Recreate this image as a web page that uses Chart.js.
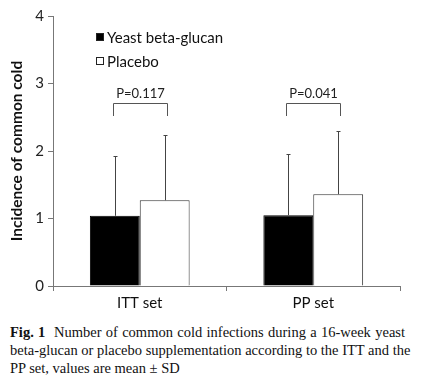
<!DOCTYPE html>
<html>
<head>
<meta charset="utf-8">
<script src="https://cdn.jsdelivr.net/npm/chart.js@4/dist/chart.umd.min.js"></script>
<style>
  html, body { margin: 0; padding: 0; background: #fff; }
  #wrap { position: relative; width: 422px; height: 392px; overflow: hidden; }
  #chart { position: absolute; left: 0; top: 0; }
  .cap { position: absolute; left: 10px; width: 395px; font-family: "Liberation Serif", "DejaVu Serif", serif;
         font-size: 14.5px; color: #111; line-height: 18px; }
  .cap div { text-align: justify; text-align-last: justify; white-space: nowrap; }
  .cap div.last { text-align-last: left; }
</style>
</head>
<body>
<div id="wrap">
  <canvas id="chart" width="422" height="320"></canvas>
  <div class="cap" style="top:323px">
    <div><b>Fig. 1</b>&nbsp; Number of common cold infections during a 16-week yeast</div>
    <div>beta-glucan or placebo supplementation according to the ITT and the</div>
    <div class="last">PP set, values are mean ± SD</div>
  </div>
</div>
<script>
// ── Données ─────────────────────────────────────────────
const categories  = ['ITT set', 'PP set'];
const seriesNames = ['Yeast beta-glucan', 'Placebo'];
const glucanMean  = [1.04, 1.05];
const glucanSD    = [0.89, 0.90];
const placeboMean = [1.27, 1.36];
const placeboSD   = [0.96, 0.94];
const pLabels     = ['P=0.117', 'P=0.041'];
const yTicks      = [0, 1, 2, 3, 4];

const FONT = 'Lato, "Open Sans", sans-serif';

/* ── Barres d'erreur (SD vers le haut) ─────────────────── */
const errorBars = {
    id: 'errorBars',
    afterDatasetsDraw(chart) {
        const ctx = chart.ctx, y = chart.scales.y;
        ctx.save();
        ctx.strokeStyle = '#444';
        ctx.lineWidth = 1;
        chart.data.datasets.forEach((ds, i) => {
            chart.getDatasetMeta(i).data.forEach((bar, j) => {
                const x = Math.round(bar.x) + 0.5;
                const top = Math.round(y.getPixelForValue(ds.data[j] + ds.sd[j])) + 0.5;
                ctx.beginPath();
                ctx.moveTo(x, bar.y);
                ctx.lineTo(x, top);
                ctx.moveTo(x - 2, top);
                ctx.lineTo(x + 2, top);
                ctx.stroke();
            });
        });
        ctx.restore();
    }
};

/* ── Crochets de significativité ───────────────────────── */
const brackets = {
    id: 'brackets',
    afterDatasetsDraw(chart) {
        const ctx = chart.ctx, y = chart.scales.y;
        const m0 = chart.getDatasetMeta(0).data, m1 = chart.getDatasetMeta(1).data;
        const yTop = Math.round(y.getPixelForValue(2.71)) + 0.5;
        const yLeg = Math.round(y.getPixelForValue(2.52));
        ctx.save();
        ctx.strokeStyle = '#555';
        ctx.lineWidth = 1;
        ctx.fillStyle = '#222';
        ctx.font = '13px ' + FONT;
        ctx.textAlign = 'center';
        ctx.textBaseline = 'bottom';
        pLabels.forEach((txt, j) => {
            const x0 = Math.round(m0[j].x) - 1.5, x1 = Math.round(m1[j].x) + 2.5;
            ctx.beginPath();
            ctx.moveTo(x0, yLeg);
            ctx.lineTo(x0, yTop);
            ctx.lineTo(x1, yTop);
            ctx.lineTo(x1, yLeg);
            ctx.stroke();
            ctx.fillText(txt, (x0 + x1) / 2, yTop - 3);
        });
        ctx.restore();
    }
};

/* ── Légende dans la zone du graphique ─────────────────── */
const legendeInterne = {
    id: 'legendeInterne',
    afterDraw(chart) {
        const ctx = chart.ctx, a = chart.chartArea;
        ctx.save();
        ctx.font = '15px ' + FONT;
        ctx.textBaseline = 'middle';
        ctx.fillStyle = '#111';
        chart.data.datasets.forEach((ds, i) => {
            const x = a.left + 43, y = a.top + 17 + i * 24;
            ctx.fillStyle = ds.backgroundColor;
            ctx.fillRect(x, y, 8, 8);
            ctx.strokeStyle = '#222';
            ctx.lineWidth = 1;
            ctx.strokeRect(x + 0.5, y + 0.5, 7, 7);
            ctx.fillStyle = '#111';
            ctx.fillText(ds.label, x + 11, y + 5);
        });
        ctx.restore();
    }
};

new Chart(document.getElementById('chart'), {
    type: 'bar',
    data: {
        labels: categories,
        datasets: [
            { label: seriesNames[0], data: glucanMean, sd: glucanSD,
              backgroundColor: '#000', borderColor: '#000', borderWidth: 1 },
            { label: seriesNames[1], data: placeboMean, sd: placeboSD,
              backgroundColor: '#fff', borderColor: '#333', borderWidth: 1 }
        ]
    },
    options: {
        responsive: false,
        animation: false,
        layout: { padding: { left: 0, right: 22, top: 16, bottom: 0 } },
        datasets: { bar: { categoryPercentage: 0.575, barPercentage: 1 } },
        plugins: { legend: { display: false }, tooltip: { enabled: false } },
        scales: {
            x: {
                grid: { display: true, drawOnChartArea: false, tickLength: 5, color: '#777' },
                border: { color: '#777' },
                ticks: { color: '#111', font: { family: FONT, size: 15 }, padding: 3 },
                afterFit: s => { s.height = 34; }
            },
            y: {
                min: 0, max: 4,
                afterBuildTicks: s => { s.ticks = yTicks.map(v => ({ value: v })); },
                grid: { display: true, drawOnChartArea: false, tickLength: 5, color: '#777' },
                border: { color: '#777' },
                ticks: { color: '#222', font: { family: FONT, size: 15 }, padding: 4 },
                title: { display: true, text: 'Incidence of common cold', color: '#111',
                         font: { family: FONT, size: 15.5, weight: 'bold' }, padding: { top: 8, bottom: 0 } },
                afterFit: s => { s.width = 53; }
            }
        }
    },
    plugins: [errorBars, brackets, legendeInterne]
});
</script>
</body>
</html>
